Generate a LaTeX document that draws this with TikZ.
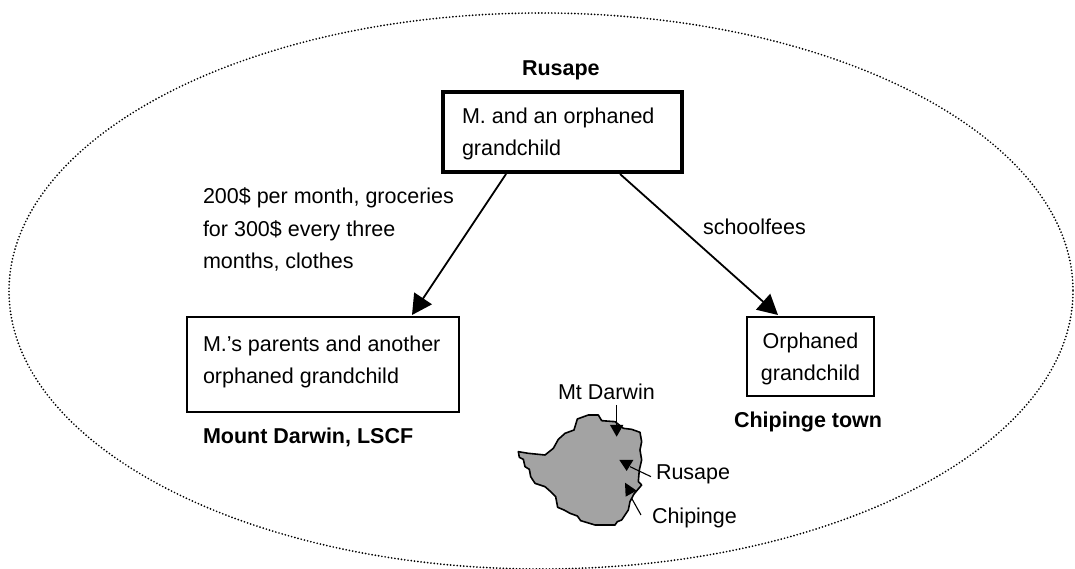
\documentclass[tikz,border=0pt]{standalone}
\usepackage{fontspec}
\setmainfont{Liberation Sans}
\usetikzlibrary{arrows.meta,calc}
\tikzset{
  x=1pt,y=-1pt,
  txt/.style={inner sep=0pt,outer sep=0pt,align=left,font=\fontsize{21.5}{32}\selectfont},
  bld/.style={txt,font=\fontsize{21.5}{32}\selectfont\bfseries},
  boxn/.style={draw=black,line width=2pt,fill=white,inner sep=0pt,outer sep=0pt},
  flow/.style={draw=black,line width=1.8pt,-{Triangle[length=20pt,width=21pt]},shorten >=0pt},
  thin line/.style={draw=black,line width=1.1pt},
  tri/.style={fill=black,draw=none},
}
\begin{document}
\begin{tikzpicture}
\useasboundingbox (0,0) rectangle (1075,569);
\fill[white] (0,0) rectangle (1075,569);
\draw[line width=1.9pt,line cap=round,dash pattern=on 0pt off 3.3pt] (541,291) ellipse [x radius=532,y radius=278];
% boxes
\path[boxn,line width=4pt] (443,92) rectangle (681.5,172);
\node[txt,anchor=base west] (top) at (462,156) {M. and an orphaned\\grandchild};
\path[boxn] (187,316.5) rectangle (459,412);
\node[txt,anchor=base west] (left) at (203,383) {M.’s parents and another\\orphaned grandchild};
\path[boxn] (747,316.5) rectangle (874,396);
\node[txt,anchor=base,align=center] (right) at (810.5,380) {Orphaned\\grandchild};
\coordinate (a1) at (506,174);
\coordinate (a2) at (412,315);
\coordinate (b1) at (620,174);
\coordinate (b2) at (778,315);
\draw[flow] (a1) -- (a2);
\draw[flow] (b1) -- (b2);
% labels
\node[bld,anchor=base west] (rus) at (522,76) {Rusape};
\node[bld,anchor=base west] (mount) at (203,443) {Mount Darwin, LSCF};
\node[bld,anchor=base west] (chip) at (734,427) {Chipinge town};
\node[txt,anchor=base west] (money) at (203,268) {200\$ per month, groceries\\for 300\$ every three\\months, clothes};
\node[txt,anchor=base west] (fees) at (703,235) {schoolfees};
% map
\begin{scope}[shift={(490,370)},x=0.3333pt,y=-0.3333pt]
\draw[fill=black!36,draw=black,line width=1.6pt,line join=round]
 (85,245)--(88,262)--(100,268)--(105,290)--(118,298)--(122,320)--(135,340)--(165,350)--(182,365)--(197,380)--(203,412)--(222,420)--(240,430)--(262,438)--(272,452)--(315,465)--(375,465)--(382,455)--(395,450)--(415,420)--(420,395)--(432,372)--(455,345)--(445,335)--(448,300)--(455,270)--(450,240)--(455,215)--(450,187)--(425,178)--(400,175)--(375,155)--(335,152)--(325,135)--(295,135)--(262,147)--(252,180)--(225,190)--(205,208)--(190,235)--(165,255)--(115,250)--cycle;
\fill[tri] (360,165)--(400,165)--(380,200)--cycle;
\fill[tri] (388,270)--(430,270)--(410,303)--cycle;
\fill[tri] (405,338)--(440,362)--(407,380)--cycle;
\draw[thin line] (380,105)--(380,165);
\draw[thin line] (420,290)--(483,320);
\draw[thin line] (425,385)--(453,435);
\end{scope}
\node[txt,anchor=base west] (m1) at (558,399) {Mt Darwin};
\node[txt,anchor=base west] (m2) at (656,479) {Rusape};
\node[txt,anchor=base west] (m3) at (652,523) {Chipinge};
\end{tikzpicture}
\end{document}
